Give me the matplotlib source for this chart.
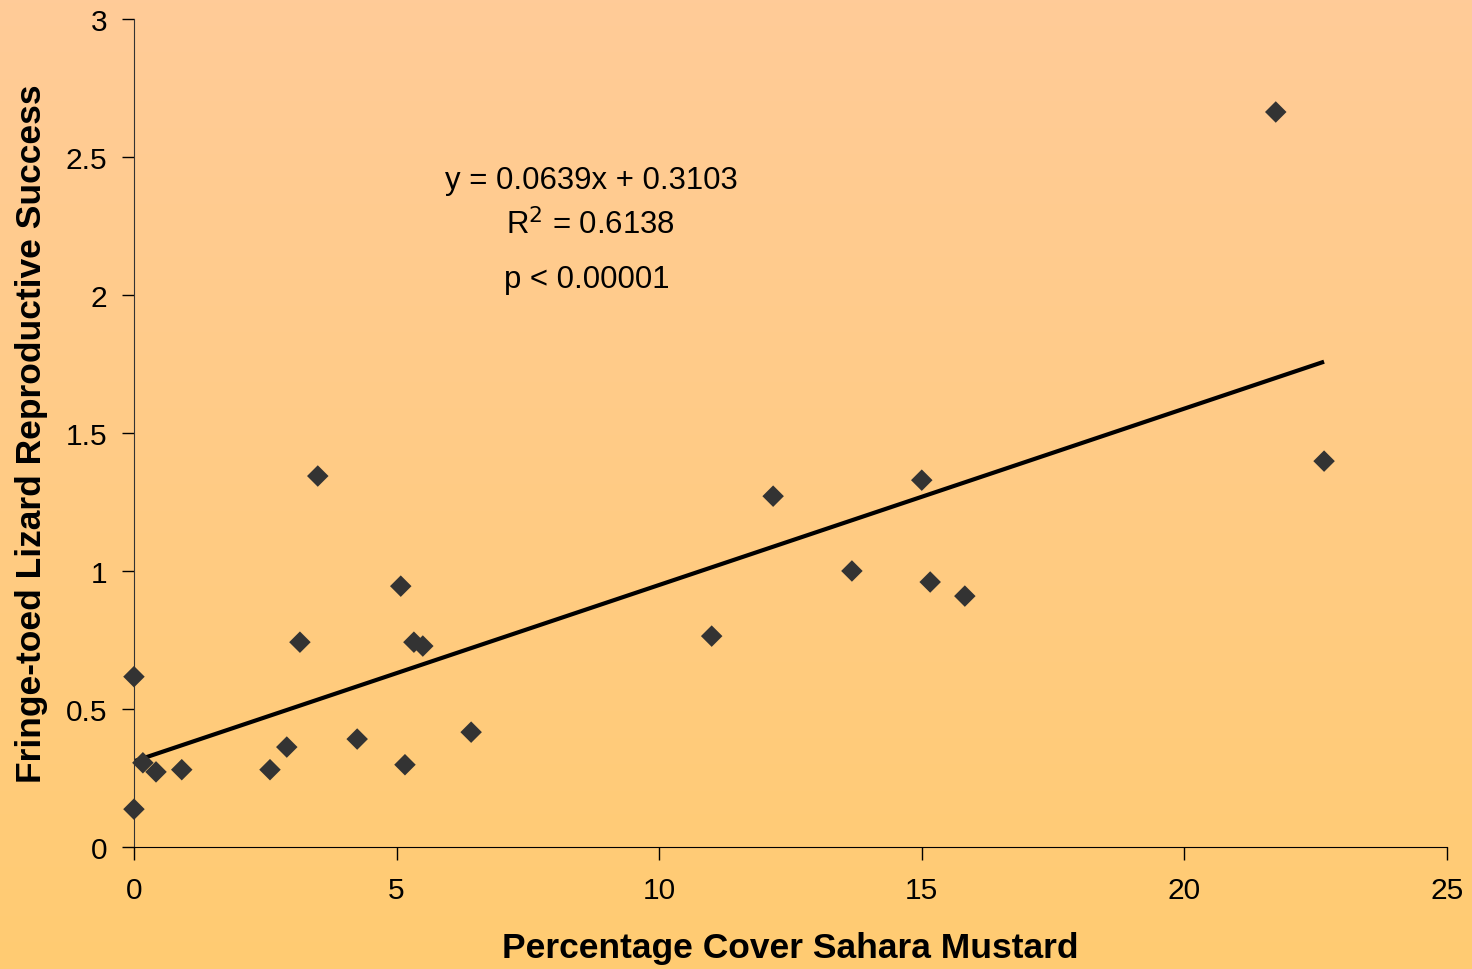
import numpy as np
import matplotlib
matplotlib.use("Agg")
import matplotlib.pyplot as plt
from matplotlib.colors import LinearSegmentedColormap

plt.rcParams["font.family"] = ["Liberation Sans", "DejaVu Sans"]

# data
mustardCover = [0.0, 0.0, 0.17, 0.42, 0.91, 2.59, 2.91, 3.16, 3.50, 4.25, 5.08, 5.16,
                5.33, 5.50, 6.42, 11.0, 12.17, 13.67, 15.0, 15.16, 15.82, 21.74, 22.66]
lizardSuccess = [0.617, 0.137, 0.305, 0.272, 0.280, 0.280, 0.362, 0.742, 1.344, 0.391, 0.945, 0.298,
                 0.742, 0.728, 0.416, 0.764, 1.271, 1.000, 1.329, 0.960, 0.909, 2.663, 1.398]
slope = 0.0639
intercept = 0.3103
xTicks = [0, 5, 10, 15, 20, 25]
yTicks = [0, 0.5, 1, 1.5, 2, 2.5, 3]
yTickLabels = ["0", "0.5", "1", "1.5", "2", "2.5", "3"]

fig = plt.figure(figsize=(14.72, 9.70), dpi=100)

# gradient background over the whole figure
bg = fig.add_axes([0, 0, 1, 1], zorder=0)
cmap = LinearSegmentedColormap.from_list("bg", ["#FFCB98", "#FFCB72"])
bg.imshow(np.linspace(0, 1, 256).reshape(-1, 1), aspect="auto", cmap=cmap,
          extent=[0, 1, 0, 1], origin="upper")
bg.axis("off")

ax = fig.add_axes([0.0910, 0.1258, 0.8920, 0.8536], zorder=1)
ax.patch.set_alpha(0)

ax.scatter(mustardCover, lizardSuccess, marker="D", s=120, color="#333333",
           edgecolors="none", zorder=3, clip_on=False)

xLine = np.array([0, max(mustardCover)])
ax.plot(xLine, slope * xLine + intercept, color="black", linewidth=3, zorder=2,
        solid_capstyle="butt")

ax.set_xlim(0, 25)
ax.set_ylim(0, 3)
ax.set_xticks(xTicks)
ax.set_yticks(yTicks)
ax.set_yticklabels(yTickLabels)
ax.spines["top"].set_visible(False)
ax.spines["right"].set_visible(False)
ax.spines["left"].set_color("#333333")
ax.spines["bottom"].set_color("black")
ax.tick_params(axis="both", direction="out", length=9, width=1, labelsize=21.5, colors="black")
ax.tick_params(axis="x", pad=12)
ax.tick_params(axis="y", pad=10)

ax.set_xlabel("Percentage Cover Sahara Mustard", fontsize=25.5, fontweight="bold", labelpad=19)
ax.set_ylabel("Fringe-toed Lizard Reproductive Success", fontsize=25.5, fontweight="bold", labelpad=13)

# regression annotation
ax.text(8.70, 2.418, "y = 0.0639x + 0.3103", fontsize=22.4, ha="center", va="center")
ax.text(8.70, 2.258, "R$^2$ = 0.6138", fontsize=22.4, ha="center", va="center")
ax.text(8.62, 2.058, "p < 0.00001", fontsize=22.4, ha="center", va="center")

fig.savefig("out.png", dpi=100)
